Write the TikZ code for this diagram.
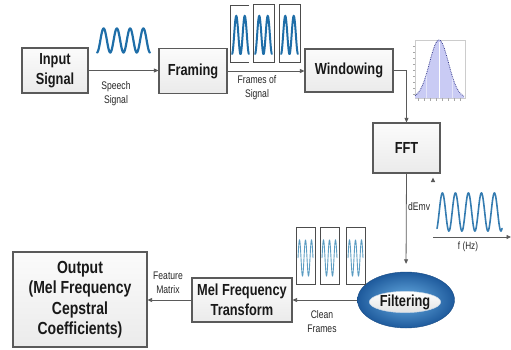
\documentclass[tikz,border=0pt]{standalone}
\usepackage{fontspec}
\setmainfont{Liberation Sans}
\newfontfamily\headfont[FakeStretch=0.8]{Liberation Sans}
\newfontfamily\smallfont[FakeStretch=0.78]{Liberation Sans}
\usetikzlibrary{arrows.meta,shapes.geometric}
\definecolor{wave}{HTML}{1F6EA8}
\definecolor{lightwave}{HTML}{5B9CC2}
\definecolor{edge}{HTML}{5A5A5A}
\definecolor{gaussfill}{HTML}{C9CBF4}
\definecolor{gaussedge}{HTML}{3A3F8F}
\definecolor{ringlight}{HTML}{6AAFE4}
\definecolor{ringdark}{HTML}{1E5A9C}
\begin{document}
\begin{tikzpicture}[x=1pt,y=-1pt,
  stage/.style={draw=edge,line width=1.1pt,top color=gray!3,bottom color=gray!16,
    inner sep=0pt,align=center,font=\headfont\bfseries\fontsize{16}{20}\selectfont,text=black!90},
  link/.style={draw=edge,line width=0.8pt,-{Triangle[length=4.5pt,width=4pt]}},
  tag/.style={font=\smallfont\fontsize{11}{14}\selectfont,align=center,text=black!85,inner sep=1pt},
  framebox/.style={draw=black!70,line width=0.9pt},
  ]
\useasboundingbox (0,0) rectangle (511,349);

% processing stages
\node[stage,minimum width=66pt,minimum height=45pt] (inp) at (55,70.5) {Input\\Signal};
\node[stage,minimum width=68pt,minimum height=45pt] (frm) at (193,71) {Framing};
\node[stage,minimum width=88pt,minimum height=43pt] (win) at (349,70.5) {Windowing};
\node[stage,minimum width=67pt,minimum height=50pt] (fft) at (406.5,148) {FFT};
\node[stage,minimum width=100pt,minimum height=44pt] (mel) at (242,300) {Mel Frequency\\Transform};
\node[stage,minimum width=134pt,minimum height=95pt,
  font=\headfont\bfseries\fontsize{17.5}{20.5}\selectfont] (out) at (80,299.5)
  {Output\\(Mel Frequency\\Cepstral\\Coefficients)};

% filtering ring
\node[ellipse,minimum width=97pt,minimum height=56pt,inner sep=0pt,
  inner color=ringlight,outer color=ringdark,draw=ringdark!85!black,line width=0.4pt] (filt) at (406,300) {};
\node[ellipse,minimum width=64pt,minimum height=21pt,inner sep=0pt,
  top color=white,bottom color=gray!22,draw=white!75!ringdark,line width=0.5pt,
  font=\headfont\bfseries\fontsize{16}{20}\selectfont,text=black!90] (filttxt) at (405,302) {Filtering};

% connectors
\draw[link] (inp.east) -- (inp.east -| frm.west);
\draw[link] (frm.east) -- (frm.east -| win.west);
\draw[link] (win.east) -| (fft.north);
\draw[link,shorten >=8pt] (fft.south) -- (filt.north);
\draw[link] (filt.west) -- (filt.west -| mel.east);
\draw[link] (mel.west) -- (mel.west -| out.east);

% connector labels
\node[tag] (speechlbl) at (116,93.5) {Speech\\Signal};
\node[tag] (frameslbl) at (257,87.5) {Frames of\\Signal};
\node[tag] (featlbl) at (168,283) {Feature\\Matrix};
\node[tag] (cleanlbl) at (322,322) {Clean\\Frames};
\node[tag,anchor=west,font=\smallfont\fontsize{11}{12}\selectfont] (dbl) at (407,207) {dEmv};
\node[tag,font=\smallfont\fontsize{10.5}{12}\selectfont] (hzlbl) at (468,247) {f (Hz)};

% speech waveform
\draw[wave,line width=2.2pt,line cap=round]
  plot[domain=-90:1350,samples=160,smooth] ({97+(\x+90)/1440*53},{40.5-12*sin(\x)});

% frames of the signal
\draw[framebox] (249,5) -- (230,5) -- (230,62) -- (249,62);
\draw[framebox] (253,4) rectangle (274,62);
\draw[framebox] (279,4) rectangle (300,62);
\foreach \fx in {232,255,281}{
  \draw[wave,line width=2pt,line cap=round]
    plot[domain=-90:630,samples=80,smooth] ({\fx+(\x+90)/720*17},{35-19*sin(\x)});
}

% window function
\draw[gray!40,line width=0.4pt] (415,40) rectangle (465,98);
\fill[gaussfill] plot[domain=415:464,samples=60,smooth] (\x,{98-58*exp(-((\x-439)^2)/180.5)}) -- (464,98) -- (415,98) -- cycle;
\foreach \gx in {426,452}{\draw[white,opacity=0.5,line width=0.4pt] (\gx,52) -- (\gx,98);}
\draw[white,line width=0.9pt] (439,42) -- (439,98);
\draw[gaussedge,densely dotted,line width=0.8pt]
  plot[domain=415:464,samples=60,smooth] (\x,{98-58*exp(-((\x-439)^2)/180.5)});
\foreach \tx in {418,424,...,464}{\draw[gray!70,line width=0.3pt] (\tx,98) -- (\tx,101);}
\foreach \ty in {46,52,...,98}{\draw[gray!70,line width=0.3pt] (413,\ty) -- (415,\ty);}

% spectrum sketch
\draw[edge,line width=0.8pt,-{Triangle[length=4.5pt,width=4pt]}] (433,237) -- (511,237);
\fill[edge] (430.8,182) -- (433,177.5) -- (435.2,182) -- cycle;
\draw[wave!90!white,line width=1.6pt,line cap=round]
  plot[domain=-60:1740,samples=200,smooth] ({437+(\x+60)/1800*65},{212-19*sin(\x)});

% clean frames
\foreach \cx in {296,320,346}{
  \draw[framebox] (\cx,227) rectangle ++(19,57);
  \draw[lightwave,line width=0.9pt]
    plot[domain=0:900,samples=90,smooth] ({\cx+2+\x/900*15},{258-18*sin(\x)});
}
\end{tikzpicture}
\end{document}
